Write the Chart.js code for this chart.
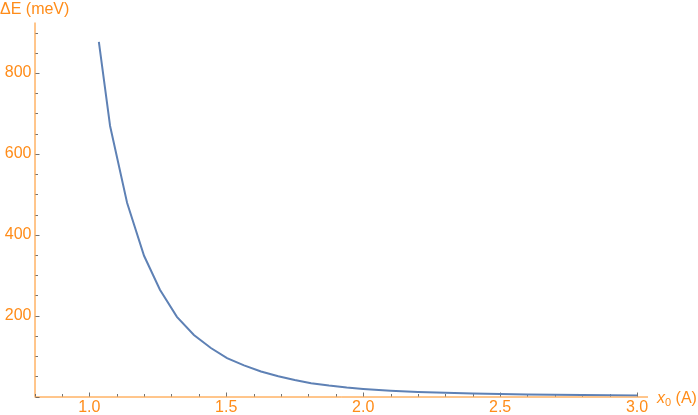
<!DOCTYPE html>
<html>
<head>
<meta charset="utf-8">
<script src="https://cdn.jsdelivr.net/npm/chart.js@4/dist/chart.umd.min.js"></script>
<style>
  html, body { margin: 0; padding: 0; background: #fff; }
  #wrap { width: 698px; height: 415px; }
</style>
</head>
<body>
<div id="wrap"><canvas id="myChart"></canvas></div>
<script>
// x0 (A) sample positions and Delta E (meV)
var x0 = [1.035, 1.076, 1.138, 1.2, 1.258, 1.32, 1.382, 1.444, 1.503, 1.565, 1.627, 1.69,
    1.75, 1.81, 1.875, 1.94, 2.0, 2.1, 2.2, 2.3, 2.4, 2.5, 2.6, 2.7, 2.8, 2.9, 3.0];
var deltaE = [877, 669, 479, 348, 264, 197, 152, 120, 95, 77, 62, 50,
    41, 33, 27, 22, 18.5, 14, 11, 9, 7.5, 6.2, 5.2, 4.4, 3.8, 3.2, 2.7];

var xTickLabels = [1.0, 1.5, 2.0, 2.5, 3.0];
var yTickLabels = [200, 400, 600, 800];

var orange = "rgb(255,140,25)";
var tickGray = "rgba(90,90,90,0.85)";
var font = { family: "'Liberation Sans', Arial, sans-serif", size: 16 };

var points = x0.map(function (x, i) { return { x: x, y: deltaE[i] }; });

// Mathematica style axes: ticks pointing inward, minor ticks in between
var axesPlugin = {
    id: "axes",
    beforeDatasetsDraw: function (chart) {
        var c = chart.ctx, xs = chart.scales.x, ys = chart.scales.y;
        var area = chart.chartArea;
        var y0 = ys.getPixelForValue(0);
        var xl = xs.getPixelForValue(xs.min);
        c.save();
        c.strokeStyle = orange;
        c.lineWidth = 1;
        c.beginPath();
        c.moveTo(xl + 0.5, area.top);
        c.lineTo(xl + 0.5, y0);
        c.stroke();
        c.beginPath();
        c.moveTo(xl, y0 + 0.5);
        c.lineTo(area.right, y0 + 0.5);
        c.stroke();

        c.strokeStyle = tickGray;
        for (var i = 8; i <= 30; i++) {
            var v = i / 10;
            var px = Math.round(xs.getPixelForValue(v)) + 0.5;
            var len = (i % 5 === 0) ? 4 : 2.5;
            c.beginPath();
            c.moveTo(px, y0);
            c.lineTo(px, y0 - len);
            c.stroke();
        }
        for (var j = 0; j <= 900; j += 50) {
            var py = Math.round(ys.getPixelForValue(j)) + 0.5;
            var l2 = (j % 200 === 0) ? 4 : 2.5;
            c.beginPath();
            c.moveTo(xl + 1, py);
            c.lineTo(xl + 1 + l2, py);
            c.stroke();
        }

        c.fillStyle = orange;
        c.textBaseline = "middle";
        c.textAlign = "left";
        c.font = "16px 'Liberation Sans', Arial, sans-serif";
        c.fillText("\u0394E (meV)", 0, 10);

        var lx = area.right + 9, ly = y0 + 2;
        c.font = "italic 16px 'Liberation Sans', Arial, sans-serif";
        c.fillText("x", lx, ly);
        var w = c.measureText("x").width;
        c.font = "11px 'Liberation Sans', Arial, sans-serif";
        c.fillText("0", lx + w, ly + 4);
        var w2 = c.measureText("0").width;
        c.font = "16px 'Liberation Sans', Arial, sans-serif";
        c.fillText(" (A)", lx + w + w2, ly);
        c.restore();
    }
};

var ctx = document.getElementById("myChart").getContext("2d");
var myChart = new Chart(ctx, {
    type: "line",
    data: {
        datasets: [
            {
                label: "dE",
                data: points,
                borderColor: "#5e81b5",
                borderWidth: 2,
                pointRadius: 0,
                tension: 0,
                fill: false,
            },
        ],
    },
    options: {
        responsive: true,
        maintainAspectRatio: false,
        animation: false,
        layout: { padding: { top: 22.5, right: 50, left: 0, bottom: 0 } },
        plugins: { legend: { display: false }, tooltip: { enabled: false } },
        scales: {
            x: {
                type: "linear",
                min: 0.8,
                max: 3.04,
                grid: { display: false, drawTicks: false },
                border: { display: false },
                afterBuildTicks: function (scale) {
                    scale.ticks = xTickLabels.map(function (v) { return { value: v }; });
                },
                afterFit: function (scale) { scale.height = 18.5; },
                ticks: {
                    color: orange,
                    font: font,
                    padding: 1,
                    maxRotation: 0,
                    autoSkip: false,
                    callback: function (v) { return Number(v).toFixed(1); },
                },
            },
            y: {
                type: "linear",
                min: 0,
                max: 925,
                grid: { display: false, drawTicks: false },
                border: { display: false },
                afterBuildTicks: function (scale) {
                    scale.ticks = yTickLabels.map(function (v) { return { value: v }; });
                },
                afterFit: function (scale) { scale.width = 34.5; },
                ticks: {
                    color: orange,
                    font: font,
                    padding: 3,
                    autoSkip: false,
                    callback: function (v) { return String(v); },
                },
            },
        },
    },
    plugins: [axesPlugin],
});
</script>
</body>
</html>
